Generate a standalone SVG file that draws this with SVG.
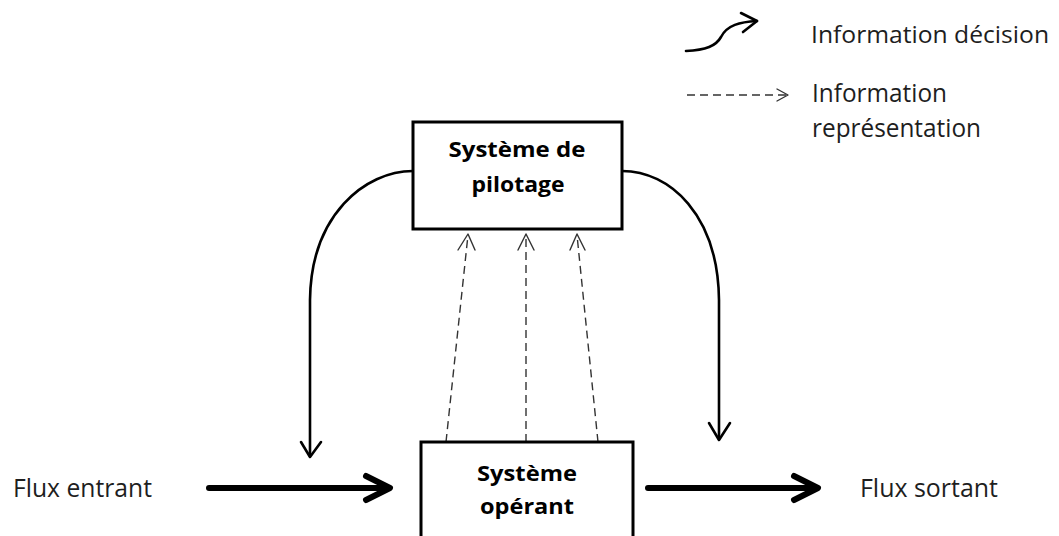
<svg xmlns="http://www.w3.org/2000/svg" width="1059" height="536" viewBox="0 0 1059 536">
  <style>
    .box { fill: #ffffff; stroke: #000000; stroke-width: 3; }
    .lbl { font-family: "Open Sans", "Liberation Sans", sans-serif; font-size: 26px; fill: #1e1e1e; }
    .lbl-s { font-size: 23px; }
    .blbl { font-family: "Open Sans", "Liberation Sans", sans-serif; font-size: 22px; font-weight: bold; fill: #000000; text-anchor: middle; }
    .curve { fill: none; stroke: #000000; stroke-width: 2.6; stroke-linecap: round; stroke-linejoin: round; }
    .dash { fill: none; stroke: #333333; stroke-width: 1.4; stroke-dasharray: 8 5; }
    .head { fill: none; stroke: #333333; stroke-width: 1.4; stroke-linecap: round; stroke-linejoin: round; }
    .thick { fill: none; stroke: #000000; stroke-width: 6; stroke-linecap: round; stroke-linejoin: round; }
  </style>
  <rect width="1059" height="536" fill="#ffffff"/>

  <g id="legend">
    <path class="curve" d="M686,51 C706,50 716,46 721,37 C727,25 740,22 757,21"/>
    <path class="curve" d="M741,13 L757,21 L743,32"/>
    <text class="lbl lbl-s" x="811" y="43" textLength="238" lengthAdjust="spacingAndGlyphs">Information décision</text>
    <line class="dash" x1="687" y1="95" x2="786" y2="95" stroke-dasharray="7 5"/>
    <path class="head" d="M777,89 L788,95 L777,101"/>
    <text class="lbl" x="812" y="102" textLength="135" lengthAdjust="spacingAndGlyphs">Information</text>
    <text class="lbl" x="812" y="137" textLength="169" lengthAdjust="spacingAndGlyphs">représentation</text>
  </g>

  <g id="connectors">
    <path class="curve" d="M413,171 C365,171 311,215 310,300 L310,456"/>
    <path class="curve" d="M301,442 L310,457 L321,442"/>
    <path class="curve" d="M622,171 C670,171 718,215 719,300 L719,439"/>
    <path class="curve" d="M709,423 L719,440 L730,423"/>

    <line class="dash" x1="446" y1="442" x2="468" y2="235"/>
    <path class="head" d="M458,250 L468,234 L475,250"/>
    <line class="dash" x1="526" y1="442" x2="526" y2="235"/>
    <path class="head" d="M518,250 L526,234 L534,250"/>
    <line class="dash" x1="598" y1="442" x2="577" y2="235"/>
    <path class="head" d="M570,250 L577,234 L585,250"/>

    <line class="thick" x1="209" y1="488" x2="388" y2="488"/>
    <path class="thick" d="M366,476 L390,488 L366,500"/>
    <line class="thick" x1="648" y1="488" x2="816" y2="488"/>
    <path class="thick" d="M794,476 L818,488 L794,500"/>
  </g>

  <g id="pilotage">
    <rect class="box" x="413" y="122" width="209" height="107"/>
    <text class="blbl" x="517" y="157" textLength="137" lengthAdjust="spacingAndGlyphs">Système de</text>
    <text class="blbl" x="518" y="192" textLength="93" lengthAdjust="spacingAndGlyphs">pilotage</text>
  </g>

  <g id="operant">
    <rect class="box" x="421" y="442" width="212" height="120"/>
    <text class="blbl" x="527" y="481" textLength="100" lengthAdjust="spacingAndGlyphs">Système</text>
    <text class="blbl" x="527" y="514" textLength="94" lengthAdjust="spacingAndGlyphs">opérant</text>
  </g>

  <g id="flux-entrant">
    <text class="lbl" x="13" y="497" textLength="139" lengthAdjust="spacingAndGlyphs">Flux entrant</text>
  </g>
  <g id="flux-sortant">
    <text class="lbl" x="860" y="497" textLength="138" lengthAdjust="spacingAndGlyphs">Flux sortant</text>
  </g>
</svg>
